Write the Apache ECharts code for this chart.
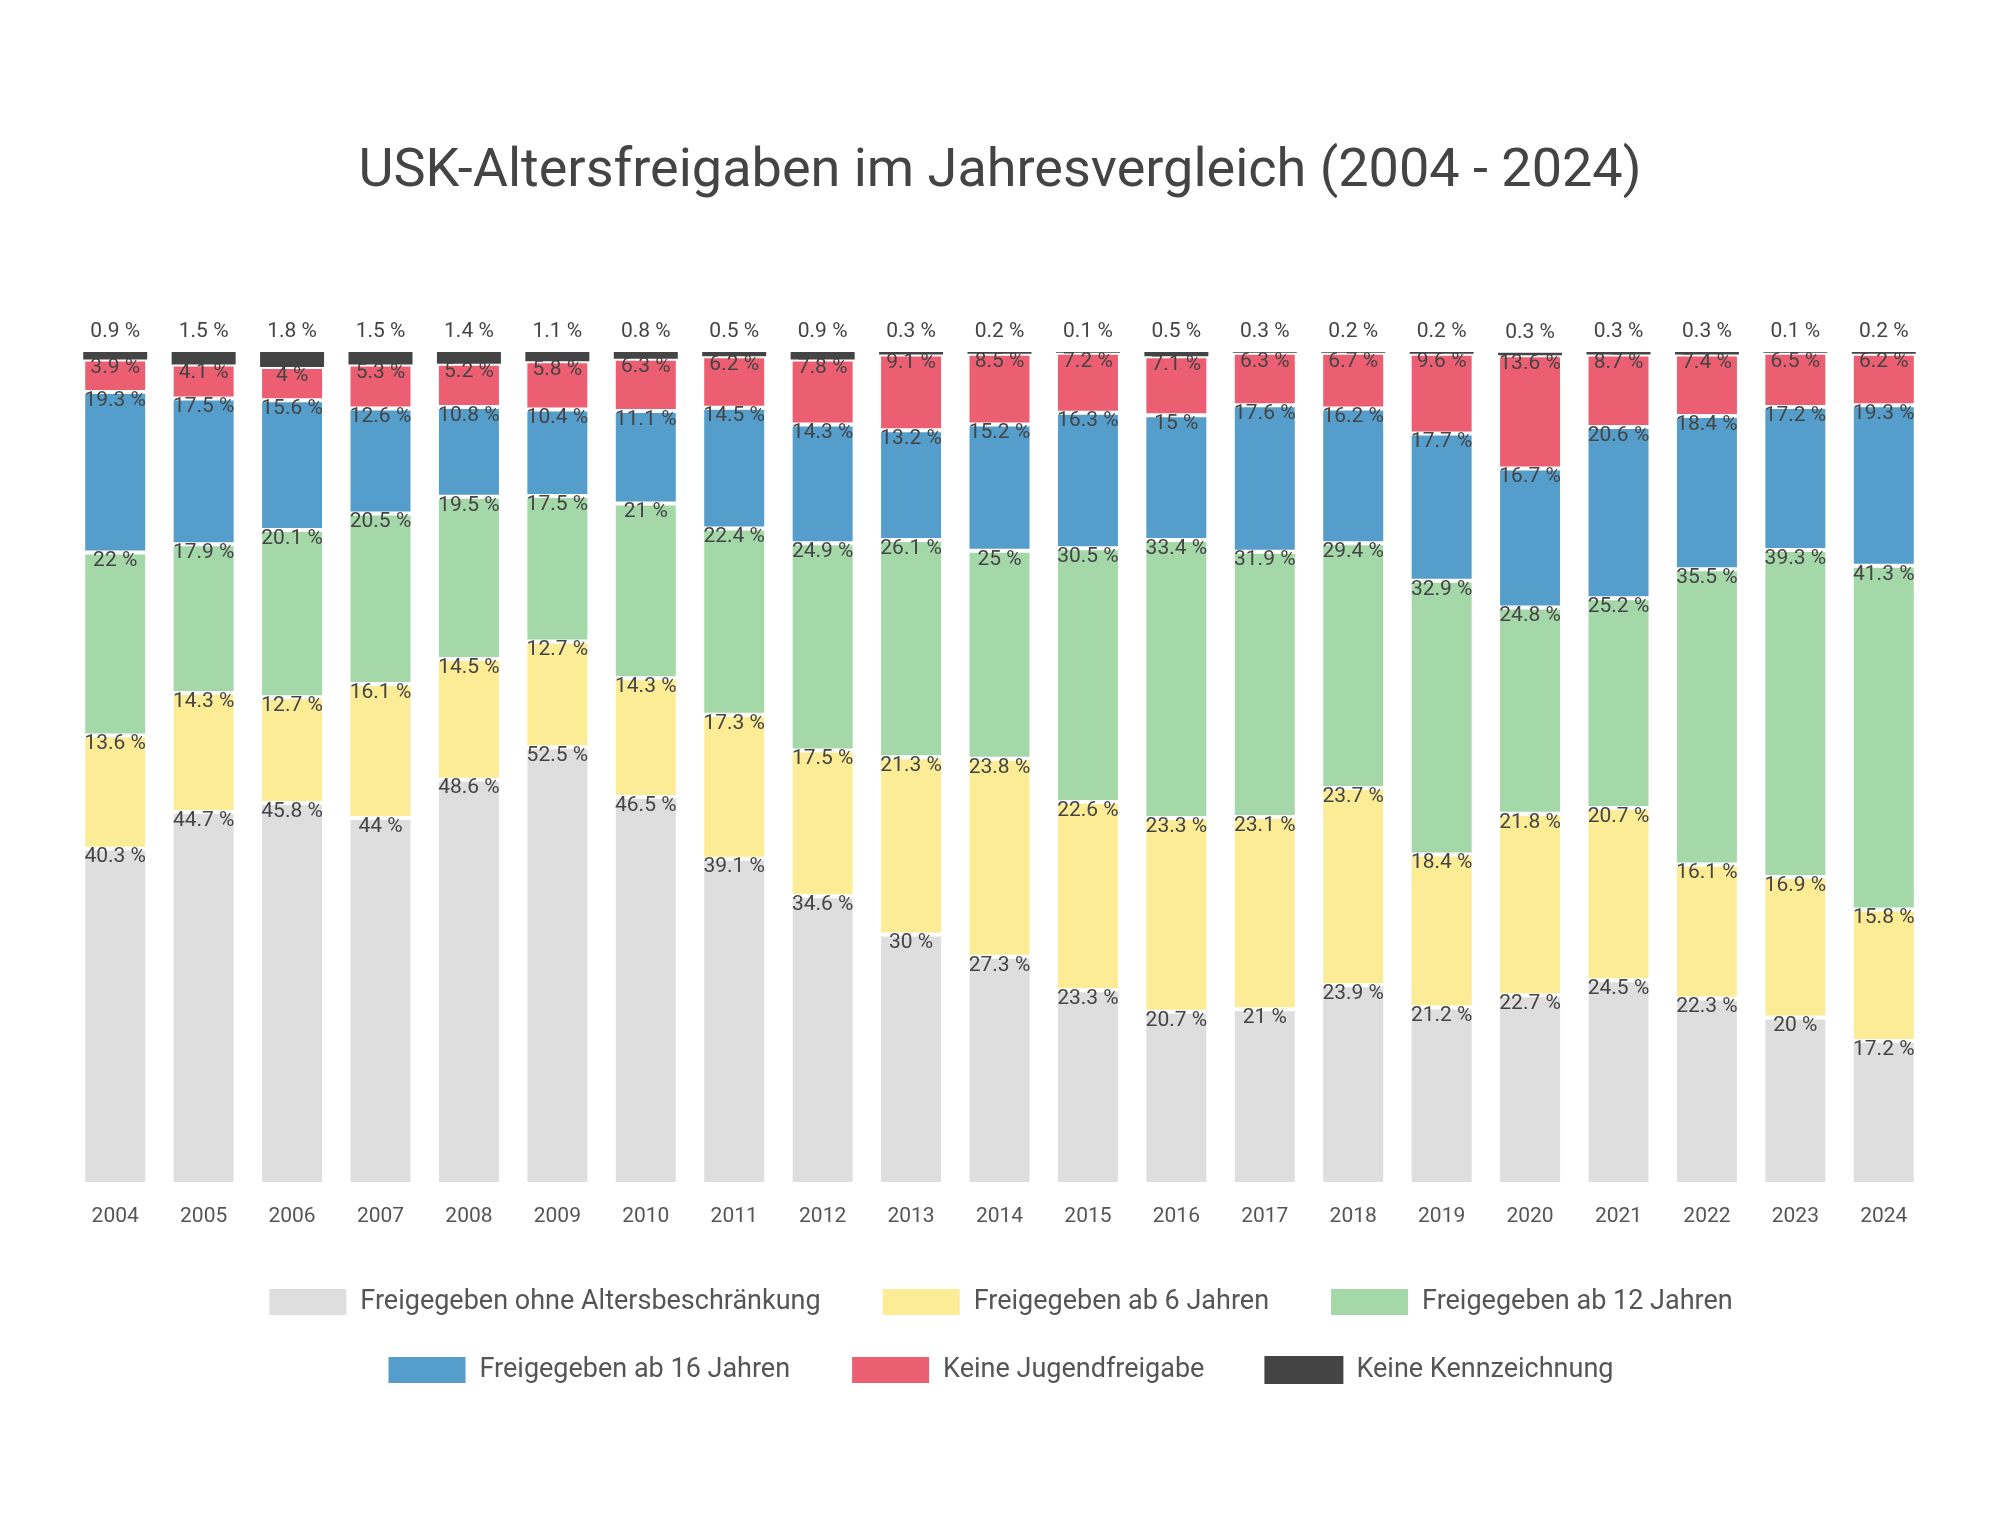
<!DOCTYPE html>
<html><head><meta charset="utf-8">
<script src="https://cdn.jsdelivr.net/npm/echarts@6/dist/echarts.min.js"></script>
<style>html,body{margin:0;padding:0;background:#fff}#c{width:2000px;height:1520px}</style>
</head><body><div id="c"></div>
<script>
var years = ["2004","2005","2006","2007","2008","2009","2010","2011","2012","2013","2014","2015","2016","2017","2018","2019","2020","2021","2022","2023","2024"];
var ohne  = [40.3,44.7,45.8,44,48.6,52.5,46.5,39.1,34.6,30,27.3,23.3,20.7,21,23.9,21.2,22.7,24.5,22.3,20,17.2];
var ab6   = [13.6,14.3,12.7,16.1,14.5,12.7,14.3,17.3,17.5,21.3,23.8,22.6,23.3,23.1,23.7,18.4,21.8,20.7,16.1,16.9,15.8];
var ab12  = [22,17.9,20.1,20.5,19.5,17.5,21,22.4,24.9,26.1,25,30.5,33.4,31.9,29.4,32.9,24.8,25.2,35.5,39.3,41.3];
var ab16  = [19.3,17.5,15.6,12.6,10.8,10.4,11.1,14.5,14.3,13.2,15.2,16.3,15,17.6,16.2,17.7,16.7,20.6,18.4,17.2,19.3];
var keine = [3.9,4.1,4,5.3,5.2,5.8,6.3,6.2,7.8,9.1,8.5,7.2,7.1,6.3,6.7,9.6,13.6,8.7,7.4,6.5,6.2];
var ohneK = [0.9,1.5,1.8,1.5,1.4,1.1,0.8,0.5,0.9,0.3,0.2,0.1,0.5,0.3,0.2,0.2,0.3,0.3,0.3,0.1,0.2];

var names = ["Freigegeben ohne Altersbeschränkung","Freigegeben ab 6 Jahren","Freigegeben ab 12 Jahren","Freigegeben ab 16 Jahren","Keine Jugendfreigabe","Keine Kennzeichnung"];
var colors = ["#dedede","#fdec96","#a5d8a9","#559ecb","#ec5f72","#444444"];
var sets = [ohne, ab6, ab12, ab16, keine, ohneK];
var font = "Roboto";

var myChart = echarts.init(document.getElementById("c"));
var series = sets.map(function (d, i) {
    var last = i === sets.length - 1;
    return {
        name: names[i], type: "bar", stack: "all", barWidth: 64,
        itemStyle: { color: colors[i], borderColor: "#fff", borderWidth: last ? 0 : 2 },
        label: {
            show: true, position: last ? "top" : "insideTop", distance: last ? 10 : -2,
            color: "#444", fontFamily: font, fontSize: 21,
            formatter: function (p) { return p.value + " %"; }
        },
        data: d
    };
});
var legendBase = {
    left: "center", itemWidth: 79, itemHeight: 28, itemGap: 60, icon: "rect",
    textStyle: { fontSize: 27, color: "#555", fontFamily: font, padding: [0, 0, 0, 8] }
};
myChart.setOption({
    animation: false,
    color: colors,
    title: { text: "USK-Altersfreigaben im Jahresvergleich (2004 - 2024)", left: "center", top: 140,
        textStyle: { fontSize: 54, fontWeight: "normal", color: "#444", fontFamily: font } },
    legend: [
        Object.assign({}, legendBase, { top: 1282, data: names.slice(0, 3) }),
        Object.assign({}, legendBase, { top: 1350, data: names.slice(3) })
    ],
    grid: { left: 71, right: 72, top: 352, bottom: 336 },
    xAxis: { type: "category", data: years, axisLine: { show: false }, axisTick: { show: false },
        axisLabel: { fontSize: 21, color: "#555", fontFamily: font, margin: 22 } },
    yAxis: { type: "value", min: 0, max: 100, show: false },
    series: series
});
</script></body></html>
